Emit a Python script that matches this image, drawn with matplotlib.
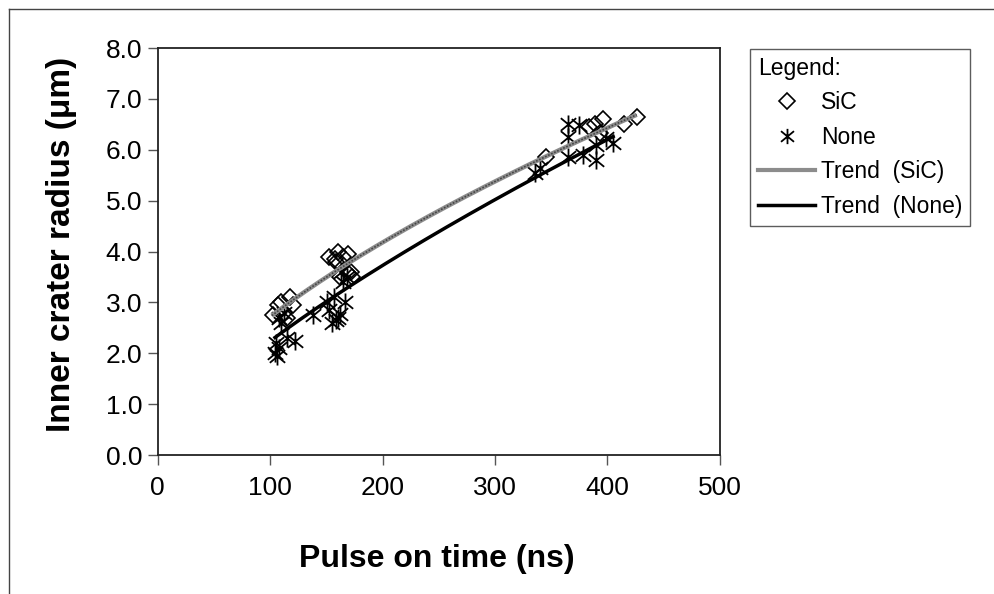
import numpy as np
import matplotlib
matplotlib.use("Agg")
import matplotlib.pyplot as plt
from matplotlib.lines import Line2D
from matplotlib.path import Path

plt.rcParams['font.family'] = ['Liberation Sans', 'DejaVu Sans']

# SiC data (pulse on time ns, inner crater radius um)
sic_x = [103, 107, 110, 112, 115, 118, 120,
         152, 158, 159, 160, 162, 165, 169, 169, 172, 173,
         345, 384, 389, 393, 396, 415, 426]
sic_y = [2.75, 2.95, 3.0, 2.8, 2.7, 3.1, 2.95,
         3.9, 3.85, 3.8, 4.0, 3.5, 3.9, 3.95, 3.57, 3.6, 3.5,
         5.85, 6.45, 6.5, 6.33, 6.6, 6.5, 6.65]

# None data
none_x = [104, 105, 106, 108, 110, 112, 115, 122, 108,
          138, 151, 152, 155, 157, 159, 160, 162, 163, 165, 167, 168,
          336, 340, 365, 365, 365, 375, 378, 390, 390, 399, 405]
none_y = [2.0, 2.2, 1.95, 2.1, 2.6, 2.8, 2.3, 2.25, 2.7,
          2.75, 3.0, 2.85, 2.6, 3.1, 2.65, 2.7, 2.78, 3.6, 3.4, 3.0, 3.5,
          5.55, 5.64, 6.5, 6.26, 5.86, 6.49, 5.9, 5.8, 6.1, 6.23, 6.13]

# power-law trend lines (y = a*x^b), read at their two ends
trend_sic_x = [101.5, 426]
trend_sic_y = [2.74, 6.69]
trend_none_x = [104.4, 405]
trend_none_y = [2.31, 6.26]

x_ticks = [0, 100, 200, 300, 400, 500]
y_ticks = [0.0, 1.0, 2.0, 3.0, 4.0, 5.0, 6.0, 7.0, 8.0]

star = Path([(0, -1), (0, 1), (-0.85, -0.7), (0.85, 0.7), (-0.85, 0.7), (0.85, -0.7)],
            [Path.MOVETO, Path.LINETO] * 3)


def power_curve(xe, ye, n=200):
    b = np.log(ye[1] / ye[0]) / np.log(xe[1] / xe[0])
    a = ye[0] / xe[0] ** b
    xs = np.linspace(xe[0], xe[1], n)
    return xs, a * xs ** b


fig = plt.figure(figsize=(9.94, 5.94), dpi=100)
ax = fig.add_axes([0.1585, 0.234, 0.5658, 0.685])

ax.plot(sic_x, sic_y, linestyle='none', marker='D', markersize=8,
        markerfacecolor='none', markeredgecolor='black', markeredgewidth=1.2)
ax.plot(none_x, none_y, linestyle='none', marker=star, markersize=13,
        color='black', markeredgewidth=1.3)

xs, ys = power_curve(trend_sic_x, trend_sic_y)
ax.plot(xs, ys, color='#8c8c8c', linewidth=3.2, solid_capstyle='butt')
ax.plot(xs, ys, color='#444444', linewidth=1.2, linestyle=(0, (1, 1)))

xs2, ys2 = power_curve(trend_none_x, trend_none_y)
ax.plot(xs2, ys2, color='black', linewidth=2.5)

ax.set_xlim(0, 500)
ax.set_ylim(0, 8)
ax.set_xticks(x_ticks)
ax.set_xticklabels([str(t) for t in x_ticks])
ax.set_yticks(y_ticks)
ax.set_yticklabels([f"{t:.1f}" for t in y_ticks])
ax.tick_params(axis='both', direction='out', length=7, width=1, labelsize=19,
               color='#555555')
ax.tick_params(axis='y', pad=4)
ax.tick_params(axis='x', pad=8)
for s in ax.spines.values():
    s.set_linewidth(1.3)
    s.set_color('#222222')

ax.set_xlabel('Pulse on time (ns)', fontsize=23, fontweight='bold', va='center')
ax.xaxis.set_label_coords(0.497, -0.255)
ax.set_ylabel('Inner crater radius (\u03bcm)', fontsize=24, fontweight='bold', va='center')
ax.yaxis.set_label_coords(-0.17, 0.517)

handles = [
    Line2D([], [], linestyle='none', marker='D', markersize=8,
           markerfacecolor='none', markeredgecolor='black', markeredgewidth=1.2),
    Line2D([], [], linestyle='none', marker=star, markersize=11,
           color='black', markeredgewidth=1.3),
    Line2D([], [], color='#8c8c8c', linewidth=3),
    Line2D([], [], color='black', linewidth=2.5),
]
labels = ['SiC', 'None', 'Trend  (SiC)', 'Trend  (None)']
leg = fig.legend(handles, labels, title='Legend:', loc='upper left',
                 bbox_to_anchor=(750 / 994, 1 - 49 / 594),
                 fontsize=16.5, title_fontsize=16.5, frameon=True, fancybox=False,
                 edgecolor='#333333', handlelength=2.5, handletextpad=0.25,
                 borderaxespad=0, borderpad=0.35, labelspacing=0.5,
                 alignment='left')
leg.get_frame().set_linewidth(1.0)

# outer frame (left and top edges visible)
fig.add_artist(Line2D([9 / 994, 9 / 994], [0, 1 - 9 / 594], color='#444444', linewidth=1,
                      transform=fig.transFigure))
fig.add_artist(Line2D([9 / 994, 1], [1 - 9 / 594, 1 - 9 / 594], color='#444444', linewidth=1,
                      transform=fig.transFigure))

fig.savefig('out.png', dpi=100, facecolor='white')
